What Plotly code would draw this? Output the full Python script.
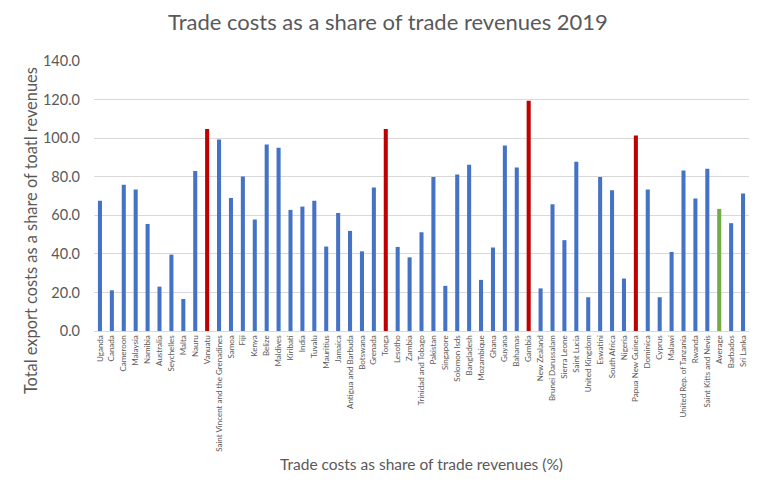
import plotly.graph_objects as go

# Countries in chart order
countries = [
    'Uganda', 'Canada', 'Cameroon', 'Malaysia', 'Namibia', 'Australia', 'Seychelles',
    'Malta', 'Nauru', 'Vanuatu', 'Saint Vincent and the Grenadines', 'Samoa', 'Fiji',
    'Kenya', 'Belize', 'Maldives', 'Kiribati', 'India', 'Tuvalu', 'Mauritius', 'Jamaica',
    'Antigua and Barbuda', 'Botswana', 'Grenada', 'Tonga', 'Lesotho', 'Zambia',
    'Trinidad and Tobago', 'Pakistan', 'Singapore', 'Solomon Isds', 'Bangladesh',
    'Mozambique', 'Ghana', 'Guyana', 'Bahamas', 'Gambia', 'New Zealand',
    'Brunei Darussalam', 'Sierra Leone', 'Saint Lucia', 'United Kingdom', 'Eswatini',
    'South Africa', 'Nigeria', 'Papua New Guinea', 'Dominica', 'Cyprus', 'Malawi',
    'United Rep. of Tanzania', 'Rwanda', 'Saint Kitts and Nevis', 'Average', 'Barbados',
    'Sri Lanka',
]

# Trade costs as share of trade revenues (%)
costs = [
    67.6, 21.1, 75.8, 73.4, 55.5, 23.0, 39.6,
    16.6, 82.9, 104.8, 99.3, 69.0, 80.1,
    57.8, 96.7, 95.0, 62.8, 64.5, 67.6, 43.8, 61.2,
    51.9, 41.3, 74.4, 104.8, 43.6, 38.2,
    51.2, 79.8, 23.4, 81.1, 86.2,
    26.5, 43.3, 96.2, 84.8, 119.4, 22.1,
    65.7, 47.1, 87.7, 17.5, 79.8,
    73.0, 27.2, 101.4, 73.4, 17.5, 41.0,
    83.2, 68.7, 84.1, 63.3, 55.9,
    71.3,
]

highlight = ['Vanuatu', 'Tonga', 'Gambia', 'Papua New Guinea']

colors = []
for c in countries:
    if c in highlight:
        colors.append('#C00000')
    elif c == 'Average':
        colors.append('#70AD47')
    else:
        colors.append('#4472C4')

fig = go.Figure()
fig.add_trace(
    go.Bar(
        x=countries,
        y=costs,
        marker=dict(color=colors, line=dict(width=0)),
        showlegend=False,
    )
)

# y title sits lower than the plot centre, like the Excel original
fig.add_annotation(
    text='Total export costs as a share of toatl revenues',
    xref='paper', yref='paper',
    x=-0.0977, y=0.37,
    xanchor='center', yanchor='middle',
    textangle=-90,
    showarrow=False,
    font=dict(size=16.4, color='#595959'),
)

# page body adds an 8px offset, so the figure is 8px smaller
fig.update_layout(
    width=760,
    height=492,
    margin=dict(l=86, r=19, t=53, b=169, autoexpand=False),
    paper_bgcolor='white',
    plot_bgcolor='white',
    font=dict(family='Lato', color='#595959'),
    bargap=0.66,
    title=dict(
        text='Trade costs as a share of trade revenues 2019',
        x=0.5, xanchor='center',
        y=1 - 14 / 492, yanchor='middle',
        font=dict(size=22, color='#595959'),
    ),
    xaxis=dict(
        tickangle=-90,
        tickfont=dict(size=8, color='#595959'),
        showgrid=False,
        showline=True,
        linecolor='#D9D9D9',
        ticks='',
        automargin=False,
        title=dict(
            text='Trade costs as share of trade revenues (%)',
            font=dict(size=15.5, color='#595959'),
            standoff=8,
        ),
    ),
    yaxis=dict(
        range=[0, 140],
        dtick=20,
        tickformat='.1f',
        tickfont=dict(size=14.5, color='#595959'),
        gridcolor='#D9D9D9',
        zeroline=False,
        ticks='',
        ticklabelstandoff=13,
        automargin=False,
    ),
)

fig.write_html('out.html')
